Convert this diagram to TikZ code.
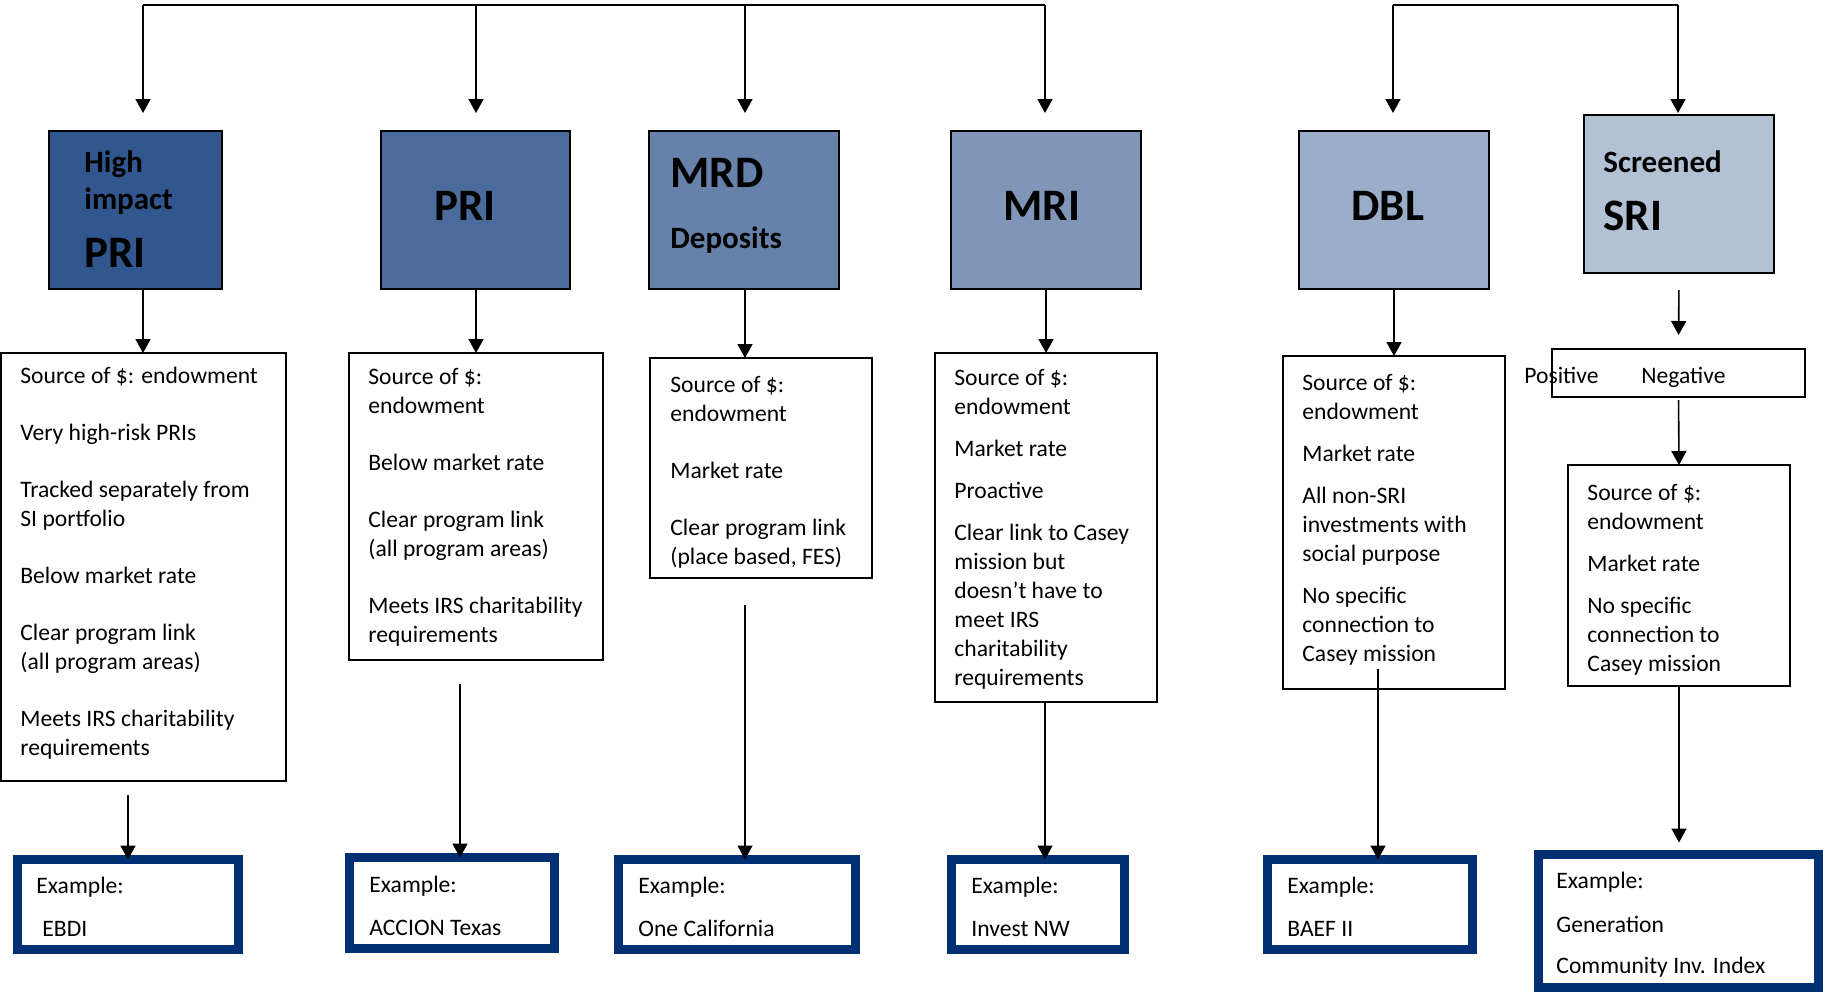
\documentclass[tikz,border=0pt]{standalone}
\usepackage{fontspec}
\setmainfont{Carlito}
\usetikzlibrary{arrows.meta}
\definecolor{cHi}{RGB}{50,87,142}
\definecolor{cPri}{RGB}{74,107,155}
\definecolor{cMrd}{RGB}{102,130,170}
\definecolor{cMri}{RGB}{128,150,185}
\definecolor{cDbl}{RGB}{155,174,201}
\definecolor{cSri}{RGB}{179,193,213}
\definecolor{navy}{RGB}{0,48,115}
\begin{document}
\begin{tikzpicture}[x=0.5pt,y=-0.5pt,
  cbox/.style={draw=black, line width=1.1pt, anchor=north west, inner sep=0pt, outer sep=0pt, minimum height=79pt},
  dbox/.style={draw=black, line width=1pt, anchor=north west, inner sep=0pt, outer sep=0pt},
  ebox/.style={draw=navy, line width=4.5pt, anchor=north west, inner sep=0pt, outer sep=0pt, minimum height=45pt},
  txt/.style={anchor=base west, inner sep=0pt, align=left, font=\fontsize{11.8}{14.5}\selectfont},
  big/.style={anchor=base west, inner sep=0pt, font=\fontsize{22.5}{26}\selectfont\bfseries},
  mid/.style={anchor=base west, inner sep=0pt, font=\fontsize{15.5}{18}\selectfont\bfseries},
  conn/.style={line width=0.8pt},
  arr/.style={conn, -{Triangle[length=7pt,width=7.5pt]}}]
\useasboundingbox (0,0) rectangle (1825,992);

% header boxes
\node[cbox, fill=cHi, minimum width=86.5pt] (hi) at (49,131) {};
\node[cbox, fill=cPri, minimum width=94.5pt] (pri) at (381,131) {};
\node[cbox, fill=cMrd, minimum width=95pt] (mrd) at (649,131) {};
\node[cbox, fill=cMri, minimum width=95pt] (mri) at (951,131) {};
\node[cbox, fill=cDbl, minimum width=95pt] (dbl) at (1299,131) {};
\node[cbox, fill=cSri, minimum width=95pt] (sri) at (1584,115) {};

\node[mid] (hiA) at (84,172) {High};
\node[mid] (hiB) at (84,209) {impact};
\node[big] (hiC) at (84,267) {PRI};
\node[big] (priT) at (434,220) {PRI};
\node[big] (mrdT) at (670,187) {MRD};
\node[mid] (mrdS) at (670,248) {Deposits};
\node[big] (mriT) at (1003,220) {MRI};
\node[big] (dblT) at (1351,220) {DBL};
\node[mid] (sriA) at (1603,172) {Screened};
\node[big] (sriB) at (1603,230) {SRI};

% detail boxes
\node[dbox, minimum width=142.5pt, minimum height=214pt] (hid) at (1,353) {};
\node[dbox, minimum width=127pt, minimum height=153.5pt] (prid) at (349,353) {};
\node[dbox, minimum width=111pt, minimum height=110pt] (mrdd) at (650,358) {};
\node[dbox, minimum width=111pt, minimum height=174.5pt] (mrid) at (935,353) {};
\node[dbox, minimum width=111pt, minimum height=166.5pt] (dbld) at (1283,356) {};
\node[dbox, minimum width=126.5pt, minimum height=24pt] (pn) at (1552,349) {};
\node[dbox, minimum width=111pt, minimum height=110.5pt] (srid) at (1568,465) {};

% multi-line texts: placed by the baseline of their last line
\node[txt] (hidT) at (20,755) {Source of \$: endowment\\[14pt]Very high-risk PRIs\\[14pt]Tracked separately from\\SI portfolio\\[14pt]Below market rate\\[14pt]Clear program link\\(all program areas)\\[14pt]Meets IRS charitability\\requirements};
\node[txt] (pridT) at (368,642) {Source of \$:\\endowment\\[14pt]Below market rate\\[14pt]Clear program link\\(all program areas)\\[14pt]Meets IRS charitability\\requirements};
\node[txt] (mrddT) at (670,564) {Source of \$:\\endowment\\[14pt]Market rate\\[14pt]Clear program link\\(place based, FES)};
\node[txt] (mridT) at (954,685) {Source of \$:\\endowment\\[6.5pt]Market rate\\[6.5pt]Proactive\\[6.5pt]Clear link to Casey\\mission but\\doesn’t have to\\meet IRS\\charitability\\requirements};
\node[txt] (dbldT) at (1302,661) {Source of \$:\\endowment\\[6.5pt]Market rate\\[6.5pt]All non-SRI\\investments with\\social purpose\\[6.5pt]No specific\\connection to\\Casey mission};
\node[txt] (pos) at (1524,383) {Positive};
\node[txt] (neg) at (1641,383) {Negative};
\node[txt] (sridT) at (1587,671) {Source of \$:\\endowment\\[6.5pt]Market rate\\[6.5pt]No specific\\connection to\\Casey mission};

% example boxes
\node[ebox, minimum width=110.5pt] (e1) at (17.5,859.5) {};
\node[ebox, minimum width=102.5pt, minimum height=45.5pt] (e2) at (349.5,857.5) {};
\node[ebox, minimum width=118.5pt] (e3) at (618.5,859.5) {};
\node[ebox, minimum width=86.5pt] (e4) at (951.5,859.5) {};
\node[ebox, minimum width=102.5pt] (e5) at (1267.5,859.5) {};
\node[ebox, minimum width=140pt, minimum height=66.5pt] (e6) at (1538.5,854.5) {};

\node[txt] (e1a) at (36,893) {Example:};
\node[txt] (e1b) at (42,936) {EBDI};
\node[txt] (e2T) at (369,935) {Example:\\[7pt]ACCION Texas};
\node[txt] (e3T) at (638,936) {Example:\\[7pt]One California};
\node[txt] (e4T) at (971,936) {Example:\\[7pt]Invest NW};
\node[txt] (e5T) at (1287,936) {Example:\\[7pt]BAEF II};
\node[txt] (e6T) at (1556,973) {Example:\\[7.5pt]Generation\\[6pt]Community Inv. Index};

% top connectors
\coordinate (tA) at (143,5);
\coordinate (tB) at (476,5);
\coordinate (tC) at (745,5);
\coordinate (tD) at (1045,5);
\coordinate (tE) at (1393,5);
\coordinate (tF) at (1678,5);
\draw[conn] (tA) -- (tD);
\draw[conn] (tE) -- (tF);
\draw[arr, shorten >=9pt] (tA) -- (tA |- hi.north);
\draw[arr, shorten >=9pt] (tB) -- (tB |- pri.north);
\draw[arr, shorten >=9pt] (tC) -- (tC |- mrd.north);
\draw[arr, shorten >=9pt] (tD) -- (tD |- mri.north);
\draw[arr, shorten >=9pt] (tE) -- (tE |- dbl.north);
\draw[arr, shorten >=1pt] (tF) -- (tF |- sri.north);

% header to detail
\draw[arr] (tA |- hi.south) -- (tA |- hid.north);
\draw[arr] (prid.north |- pri.south) -- (prid.north);
\draw[arr] (tC |- mrd.south) -- (tC |- mrdd.north);
\draw[arr] (mrid.north |- mri.south) -- (mrid.north);
\draw[arr] (dbld.north |- dbl.south) -- (dbld.north);
\draw[arr, shorten <=8.5pt, shorten >=7pt] (sri.south) -- (pn.north);
\draw[arr, shorten <=1.5pt] (pn.south) -- (srid.north);

% detail to example
\coordinate (a1) at (128,795);
\coordinate (a2) at (460,684);
\coordinate (a3) at (745,605);
\coordinate (a5) at (1378,669);
\draw[arr] (a1) -- (a1 |- e1.north);
\draw[arr] (a2) -- (a2 |- e2.north);
\draw[arr] (a3) -- (a3 |- e3.north);
\draw[arr] (tD |- mrid.south) -- (tD |- e4.north);
\draw[arr] (a5) -- (a5 |- e5.north);
\draw[arr, shorten >=6pt] (srid.south) -- (srid.south |- e6.north);
\end{tikzpicture}
\end{document}
